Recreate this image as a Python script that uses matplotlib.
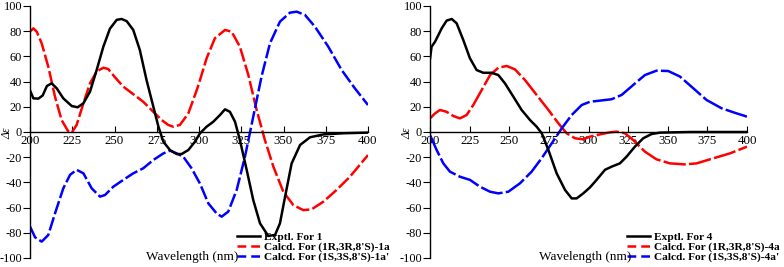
import numpy as np
import matplotlib
matplotlib.use('agg')
import matplotlib.pyplot as plt

plt.rcParams['font.family'] = ['Liberation Serif', 'DejaVu Serif']
plt.rcParams['axes.unicode_minus'] = False

# ---- panel 1 data (wavelength nm, delta epsilon)
exp1_wl = [200, 202, 205, 207.5, 210, 212.8, 215.8, 219.7, 224.7, 228.2, 231.6, 235.5, 239.4,
           243.4, 247.3, 251.3, 254.2, 257.2, 261.1, 265, 269, 273, 276, 278.9, 282.8, 286.8,
           289.7, 293.7, 297.6, 300.6, 304.5, 308.5, 312.4, 315.4, 318.3, 321.3, 324.2,
           328.2, 332.1, 336.1, 341, 345, 347.9, 350.9, 354.8, 359.8, 365.7, 373.6, 385.4, 400]
exp1_de = [33, 26.7, 26.5, 29, 36.5, 38.6, 34.7, 26.7, 20.6, 19.6, 22.8, 32, 49,
           67.7, 82, 89, 89.7, 88, 81, 65, 41, 20, 4.2, -7.7, -14.3, -17.5,
           -17.5, -14.3, -7.7, -1, 4.2, 8.2, 13.5, 18, 16, 8.2, -6.4,
           -30, -54, -72.5, -82.5, -81.7, -72.5, -51.6, -25, -10.3, -4.2, -1.9, -1, -0.5]

calc1a_wl = [200, 202, 204, 206.9, 210.8, 214.8, 218.7, 222.7, 224.7, 227.6, 231.6, 235.5,
             239.4, 243.4, 246.3, 250.3, 255.2, 261.1, 267, 273, 277.9, 281.8, 284.8, 288.7,
             293.7, 298.6, 300.6, 304.5, 309.4, 315.4, 319.3, 324.2, 329.2, 334.1, 339, 344,
             349.9, 355.8, 361.7, 366.6, 373.6, 381.4, 389.3, 400]
calc1a_de = [79.6, 82.3, 79.6, 70.4, 51.9, 28, 9.5, 0.3, -0.5, 5.6, 22.8, 38.6,
             48, 51, 50, 43.4, 36, 30, 24, 16, 9.5, 5.6, 4.2, 5.6,
             14.8, 33, 41.3, 58.5, 74.4, 81, 79.6, 67.7, 45.2, 17.5, -6.4, -27.5,
             -47.4, -58, -62, -61.4, -55.3, -46, -35.5, -18.3]

calc1b_wl = [200, 203, 206.9, 210.8, 214.8, 219.7, 223.7, 227.6, 231.6, 236.5, 241.4, 244.4,
             249.3, 255.2, 261.1, 267, 273, 278.9, 282.8, 286.8, 290.7, 295.6, 300.6, 305.5,
             310.4, 313.4, 317.3, 322.3, 327.2, 332.1, 337, 342, 347.9, 353.8, 357.8, 362.7,
             368.6, 376.5, 384.4, 392.2, 400]
calc1b_de = [-75, -83.6, -87, -81.8, -64.6, -44.7, -34, -30, -32.8, -44.7, -51.3, -50,
             -43.4, -38, -32.8, -28.8, -22.2, -17, -14.8, -17, -19.6, -28.8, -41, -56.6,
             -64.6, -67.2, -63.2, -46, -19.6, 12.2, 44, 70.4, 87.6, 94.7, 95.5, 92.9,
             83.6, 67.7, 49.2, 34.7, 21.4]

# ---- panel 2 data
exp4_wl = [200, 201, 203.2, 205.3, 207.4, 210.5, 213.7, 216.8, 221, 225.2, 229.4, 233.6,
           238.9, 243.1, 247.3, 252.6, 257.8, 263.1, 267.3, 270.5, 274.7, 279.9, 285.2,
           289.4, 292.5, 296.7, 300.9, 305.1, 310.4, 314.6, 319.8, 324, 329.3, 334.5,
           339.8, 345.1, 364, 400]
exp4_de = [58, 67.7, 71.7, 77, 82.3, 88.4, 89.7, 86.3, 73, 58.5, 49.2, 47,
           47, 45.2, 38.6, 28, 17.5, 9.5, 4.2, -1, -14.3, -32.8, -46,
           -52.7, -52.7, -48.7, -44, -38, -30, -27.5, -24.9, -19.6, -11.6, -5,
           -1.6, -0.5, 0, 0]

calc4a_wl = [200, 203.2, 206.3, 210.5, 214.7, 218.9, 223.1, 227.3, 232.6, 237.9, 243.1,
             248.4, 253.6, 259.9, 267.3, 274.7, 281, 286.2, 291.5, 296.7, 300.9, 307.2,
             313.5, 317.7, 323, 328.2, 335.6, 342.9, 351.4, 360.8, 368.2, 378.7, 389.2, 400]
calc4a_de = [10.8, 14.8, 17.5, 16, 12.7, 10.8, 13.5, 21.4, 33.3, 45.2, 51,
             52.4, 49.7, 41.3, 29.4, 17.5, 6.9, -1, -5, -5.8, -3.7, -1.9,
             -0.3, 0.3, -1, -6.4, -15.6, -21.7, -24.9, -25.7, -24.9, -20.9, -17, -11.6]

calc4b_wl = [200, 204.2, 208.4, 212.6, 218.9, 225.2, 231.5, 237.9, 243.1, 249.4, 256.8,
             264.1, 270.4, 276.8, 283.1, 289.4, 295.7, 300.9, 307.2, 314.6, 320.9, 328.2,
             335.6, 343, 350.3, 357.7, 366.1, 374.5, 384, 393.4, 400]
calc4b_de = [-2.4, -14.3, -24.9, -31.5, -35.5, -38, -43.4, -47.4, -48.7, -47.4, -40.7,
             -31.5, -20.9, -9, 2.9, 13.5, 21.4, 24, 24.9, 26, 29.4, 37.3,
             45.2, 48.7, 48.4, 44, 34.7, 25.4, 18.8, 14.8, 12.2]

labels1 = ['Exptl. For 1', "Calcd. For (1R,3R,8'S)-1a", "Calcd. For (1S,3S,8'S)-1a'"]
labels4 = ['Exptl. For 4', "Calcd. For (1R,3R,8'S)-4a", "Calcd. For (1S,3S,8'S)-4a'"]

W, H = 784, 267
fig = plt.figure(figsize=(W / 100, H / 100), dpi=100)


def px_axes(x0, x1, y0, y1):
    return fig.add_axes([x0 / W, 1 - y1 / H, (x1 - x0) / W, (y1 - y0) / H])


def style(ax):
    ax.set_xlim(200, 400)
    ax.set_ylim(-100, 100)
    ax.set_xticks(range(200, 401, 25))
    ax.set_yticks(range(-100, 101, 20))
    for s in ['top', 'right']:
        ax.spines[s].set_visible(False)
    ax.spines['bottom'].set_position(('data', 0))
    ax.spines['bottom'].set_linewidth(1.0)
    ax.spines['left'].set_linewidth(1.0)
    ax.tick_params(axis='x', direction='in', length=4, pad=2.5, labelsize=9.3)
    ax.tick_params(axis='y', direction='out', length=5, pad=0.8, labelsize=8.8)
    ax.patch.set_alpha(0)


def draw(ax, series, labels, leg_x, wl_x, ylab_x, dash):
    (ew, ed), (aw, ad), (bw, bd) = series
    h2, = ax.plot(aw, ad, color='#ff0000', lw=1.8, dashes=dash)
    h3, = ax.plot(bw, bd, color='#0000ff', lw=1.8, dashes=dash)
    h1, = ax.plot(ew, ed, color='black', lw=1.8)
    lh2, = ax.plot([], [], color='#ff0000', lw=1.8, dashes=(3.5, 2))
    lh3, = ax.plot([], [], color='#0000ff', lw=1.8, dashes=(3.5, 2))
    ax.legend([h1, lh2, lh3], labels, loc='upper left', bbox_to_anchor=(leg_x / W, 1 - 232 / H),
              bbox_transform=fig.transFigure, frameon=False, borderpad=0,
              borderaxespad=0, handlelength=2.0, handletextpad=0.4,
              labelspacing=0.0, prop={'weight': 'bold', 'size': 8.2})
    fig.text(wl_x / W, 1 - 257 / H, 'Wavelength (nm)', ha='center', va='center', fontsize=9.5)
    fig.text(ylab_x / W, 1 - 133 / H, 'Δε', ha='center', va='center', rotation=90,
             fontsize=8.5, style='italic')


ax1 = px_axes(30, 368, 6, 258)
style(ax1)
draw(ax1, [(exp1_wl, exp1_de), (calc1a_wl, calc1a_de), (calc1b_wl, calc1b_de)],
     labels1, 237, 192, 7, (5.5, 1.3))

ax2 = px_axes(430, 747, 6, 258)
style(ax2)
draw(ax2, [(exp4_wl, exp4_de), (calc4a_wl, calc4a_de), (calc4b_wl, calc4b_de)],
     labels4, 627, 585, 407, (9, 1.3))

plt.savefig('out.png', dpi=100)
